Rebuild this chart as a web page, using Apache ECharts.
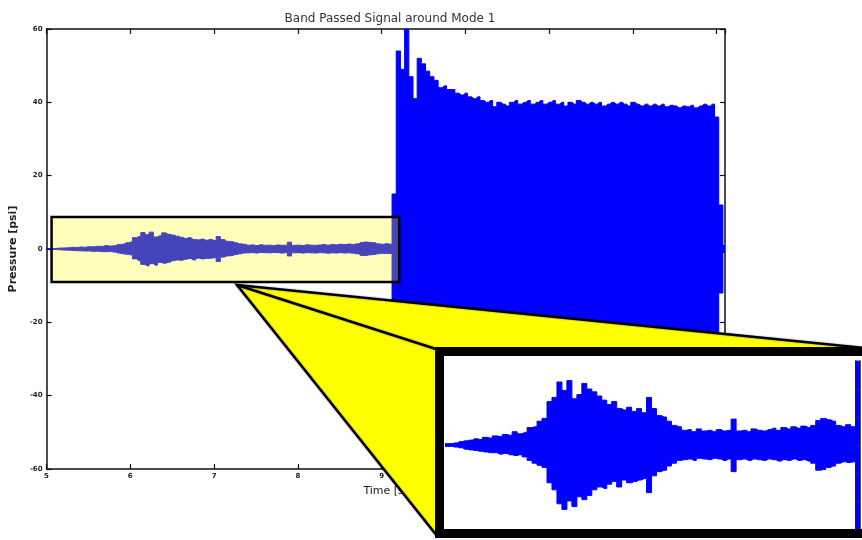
<!DOCTYPE html>
<html>
<head>
<meta charset="utf-8">
<script src="https://cdn.jsdelivr.net/npm/echarts@6/dist/echarts.min.js"></script>
<style>
  html, body { margin: 0; padding: 0; background: #fff; }
  #chart { width: 862px; height: 540px; }
</style>
</head>
<body>
<div id="chart"></div>
<script>
// Band-passed pressure signal, stored as its envelope (upper / lower peaks)
// sampled every 0.05 s.
const sampleStep = 0.05;

// Quiet stretch before the mode rings up: 5.00 s .. 9.15 s
const quietStart = 5.00;
const quietUpper = [
  0.10, 0.10, 0.15, 0.25, 0.30, 0.35, 0.45, 0.40, 0.55, 0.50, 0.65, 0.60, 0.75, 0.70, 0.95, 0.80, 0.90, 1.25, 1.30, 1.70,
  1.90, 3.10, 3.40, 4.50, 3.90, 4.60, 3.30, 3.60, 4.40, 4.00, 3.80, 3.50, 3.20, 2.90, 3.10, 2.60, 2.50, 2.70, 2.40, 2.60,
  2.30, 3.40, 2.60, 2.10, 2.00, 1.70, 1.40, 1.30, 1.05, 1.10, 0.95, 1.15, 1.00, 1.05, 0.95, 1.10, 1.00, 1.05, 1.85, 1.00,
  1.05, 0.95, 1.15, 1.05, 1.00, 1.10, 1.20, 1.05, 1.25, 1.15, 1.30, 1.20, 1.35, 1.25, 1.40, 1.75, 1.90, 1.80, 1.70, 1.40,
  1.30, 1.45, 1.30, 15.0
];
const quietLower = [
  -0.10, -0.10, -0.15, -0.20, -0.30, -0.35, -0.40, -0.45, -0.50, -0.55, -0.55, -0.65, -0.60, -0.70, -0.75, -0.70, -0.85, -1.10, -1.30, -1.45,
  -1.60, -2.70, -3.20, -4.20, -4.60, -4.00, -4.40, -3.70, -3.90, -3.60, -3.20, -3.00, -3.10, -2.80, -2.60, -3.00, -2.50, -2.70, -2.60, -2.50,
  -2.40, -3.40, -2.20, -1.90, -1.80, -1.50, -1.30, -1.10, -1.05, -1.00, -1.10, -0.95, -1.00, -1.05, -0.95, -1.00, -1.10, -1.00, -1.90, -1.05,
  -1.00, -1.10, -1.00, -1.05, -1.10, -1.00, -1.05, -1.15, -1.05, -1.10, -1.00, -1.10, -1.05, -1.15, -1.30, -1.80, -1.75, -1.60, -1.50, -1.30,
  -1.20, -1.25, -1.20, -15.0
];

// Ringing of mode 1: 9.20 s .. 13.10 s
const ringStart = 9.20;
const ringUpper = [
  54, 49, 60, 47, 41, 52, 50.5, 48.5, 47, 46, 44, 44.5, 43.5, 43.5, 42.5, 42,
  42.5, 41.5, 41, 41.5, 40.5, 40, 40.5, 38.8, 40, 39.5, 39, 40, 40.5, 39.5, 40, 40.5, 39.5, 40, 40.5, 39.5,
  40, 40.5, 39.5, 40, 39, 40, 39.5, 40.5, 40, 39.5, 40, 39.5, 40, 39, 39.5, 40, 39.5, 40, 39.5, 39,
  40, 39.5, 39, 39.5, 39, 39.5, 39, 39.5, 38.8, 39.2, 39, 38.5, 39, 38.8, 39.2, 38.5, 39, 39.5, 39, 39.5,
  36, 12, 1
];
const ringLower = [
  -53, -50, -58, -46, -42, -51, -49, -47, -46, -45, -44.5, -43.5, -43, -42.5, -42, -42.5,
  -41.5, -41, -41.5, -40.5, -40, -40.5, -39.5, -40, -39, -40, -40.5, -39.5, -40, -40.5, -39.5, -40, -39, -40, -39.5, -40.5,
  -40, -39.5, -40, -39, -40, -39.5, -40, -39.5, -39, -40, -39.5, -40, -39, -39.5, -40, -39, -39.5, -39, -40, -39.5,
  -39, -39.5, -39, -38.5, -39.5, -39, -38.8, -39.2, -39, -38.5, -39, -39.2, -38.8, -39, -38.5, -39, -39.2, -39, -39.5, -39,
  -36, -12, -1
];

// Axis ranges and tick spacing
const timeRange = [5, 13.1];
const timeTickStep = 1;
const pressureRange = [-60, 60];
const pressureTickStep = 20;

// Close-up window shown in the magnified panel
const zoomWindow = { tStart: 5.06, tEnd: 9.21, pLow: -9.0, pHigh: 8.7 };
const zoomTimeRange = [5, 9.17];
const zoomPressureRange = [-6, 6];
const zoomPressureStep = 2;

const titleText = 'Band Passed Signal around Mode 1';
const xName = 'Time [s]';
const yName = 'Pressure [psi]';

function toPairs(start, values) {
  return values.map((v, i) => [Number((start + i * sampleStep).toFixed(2)), v]);
}
const upperEnvelope = toPairs(quietStart, quietUpper).concat(toPairs(ringStart, ringUpper));
const lowerEnvelope = toPairs(quietStart, quietLower).concat(toPairs(ringStart, ringLower));

const BLUE = '#0000ff';
const FONT = 'DejaVu Sans';
const tickLabel = { fontFamily: FONT, fontSize: 7, color: '#222', fontWeight: 'bold' };

function envelopeSeries(data, xi, yi, z) {
  return {
    type: 'line',
    xAxisIndex: xi,
    yAxisIndex: yi,
    data: data,
    step: 'middle',
    showSymbol: false,
    symbol: 'none',
    clip: true,
    z: z,
    lineStyle: { color: BLUE, width: 1 },
    areaStyle: { color: BLUE, opacity: 1 },
    silent: true
  };
}

const chart = echarts.init(document.getElementById('chart'), null, { renderer: 'canvas' });

const option = {
  animation: false,
  backgroundColor: '#fff',
  title: {
    text: titleText,
    left: 385,
    top: 8,
    textAlign: 'center',
    textStyle: { fontFamily: FONT, fontSize: 12, fontWeight: 'normal', color: '#333' }
  },
  grid: [
    { left: 45, top: 29, width: 680, height: 440 },
    { left: 445, top: 361, width: 415, height: 168 }
  ],
  xAxis: [
    {
      type: 'value', gridIndex: 0, position: 'bottom',
      min: timeRange[0], max: timeRange[1], interval: timeTickStep,
      name: xName, nameLocation: 'middle', nameGap: 17,
      nameTextStyle: { fontFamily: FONT, fontSize: 11, color: '#222' },
      axisLine: { onZero: false, lineStyle: { color: '#111', width: 1.5 } },
      axisTick: { inside: true, length: 5, lineStyle: { color: '#111', width: 1.2 } },
      axisLabel: Object.assign({ margin: 4, showMaxLabel: false }, tickLabel),
      splitLine: { show: false }
    },
    {
      type: 'value', gridIndex: 0, position: 'top',
      min: timeRange[0], max: timeRange[1], interval: timeTickStep,
      axisLine: { onZero: false, lineStyle: { color: '#111', width: 1.5 } },
      axisTick: { inside: true, length: 5, lineStyle: { color: '#111', width: 1.2 } },
      axisLabel: { show: false },
      splitLine: { show: false }
    },
    {
      type: 'value', gridIndex: 1,
      min: zoomTimeRange[0], max: zoomTimeRange[1],
      show: false, splitLine: { show: false }
    }
  ],
  yAxis: [
    {
      type: 'value', gridIndex: 0, position: 'left',
      min: pressureRange[0], max: pressureRange[1], interval: pressureTickStep,
      name: yName, nameLocation: 'middle', nameGap: 23, nameRotate: 90,
      nameTextStyle: { fontFamily: FONT, fontSize: 11, fontWeight: 'bold', color: '#222' },
      axisLine: { onZero: false, lineStyle: { color: '#111', width: 1.5 } },
      axisTick: { inside: true, length: 5, lineStyle: { color: '#111', width: 1.2 } },
      axisLabel: Object.assign({ margin: 4 }, tickLabel),
      splitLine: { show: false }
    },
    {
      type: 'value', gridIndex: 0, position: 'right',
      min: pressureRange[0], max: pressureRange[1], interval: pressureTickStep,
      axisLine: { onZero: false, lineStyle: { color: '#111', width: 1.5 } },
      axisTick: { inside: true, length: 5, lineStyle: { color: '#111', width: 1.2 } },
      axisLabel: { show: false },
      splitLine: { show: false }
    },
    {
      type: 'value', gridIndex: 1, position: 'right', z: 45,
      min: zoomPressureRange[0], max: zoomPressureRange[1], interval: zoomPressureStep,
      axisLine: { onZero: false, lineStyle: { color: '#555', width: 1 } },
      axisTick: { inside: true, length: 3, lineStyle: { color: '#333', width: 1 } },
      axisLabel: { show: false },
      splitLine: { show: false }
    }
  ],
  series: [
    envelopeSeries(upperEnvelope, 0, 0, 2),
    envelopeSeries(lowerEnvelope, 0, 0, 2),
    envelopeSeries(upperEnvelope, 2, 2, 40),
    envelopeSeries(lowerEnvelope, 2, 2, 40)
  ]
};

chart.setOption(option);

// Highlight box around the quiet stretch, placed in data coordinates
const p0 = chart.convertToPixel({ seriesIndex: 0 }, [zoomWindow.tStart, zoomWindow.pHigh]);
const p1 = chart.convertToPixel({ seriesIndex: 0 }, [zoomWindow.tEnd, zoomWindow.pLow]);

// Magnifier callout geometry
const apex = [237, 285];
const frame = { x: 439.5, y: 351.5, w: 440, h: 182, lw: 9 };
const upperEnd = [884, 350];
const midEnd = [frame.x - 2, frame.y - 2];
const lowerEnd = [frame.x - 2, frame.y + frame.h + 3];

chart.setOption({
  graphic: [
    {
      type: 'rect', z: 10, silent: true,
      shape: { x: p0[0], y: p0[1], width: p1[0] - p0[0], height: p1[1] - p0[1] },
      style: { fill: 'rgba(255,252,0,0.27)', stroke: '#000', lineWidth: 2.5 }
    },
    {
      type: 'polygon', z: 20, silent: true,
      shape: { points: [apex, upperEnd, lowerEnd] },
      style: { fill: '#ffff00' }
    },
    {
      type: 'polyline', z: 21, silent: true,
      shape: { points: [upperEnd, apex, lowerEnd] },
      style: { stroke: '#000', lineWidth: 2.5, fill: null, shadowBlur: 2, shadowColor: 'rgba(0,0,0,0.4)' }
    },
    {
      type: 'line', z: 21, silent: true,
      shape: { x1: apex[0], y1: apex[1], x2: midEnd[0], y2: midEnd[1] },
      style: { stroke: '#000', lineWidth: 2.5, shadowBlur: 2, shadowColor: 'rgba(0,0,0,0.4)' }
    },
    {
      type: 'rect', z: 30, silent: true,
      shape: { x: frame.x, y: frame.y, width: frame.w, height: frame.h },
      style: { fill: '#fff' }
    },
    {
      type: 'rect', z: 50, silent: true,
      shape: { x: frame.x, y: frame.y, width: frame.w, height: frame.h },
      style: { fill: null, stroke: '#000', lineWidth: frame.lw }
    }
  ]
});
</script>
</body>
</html>
